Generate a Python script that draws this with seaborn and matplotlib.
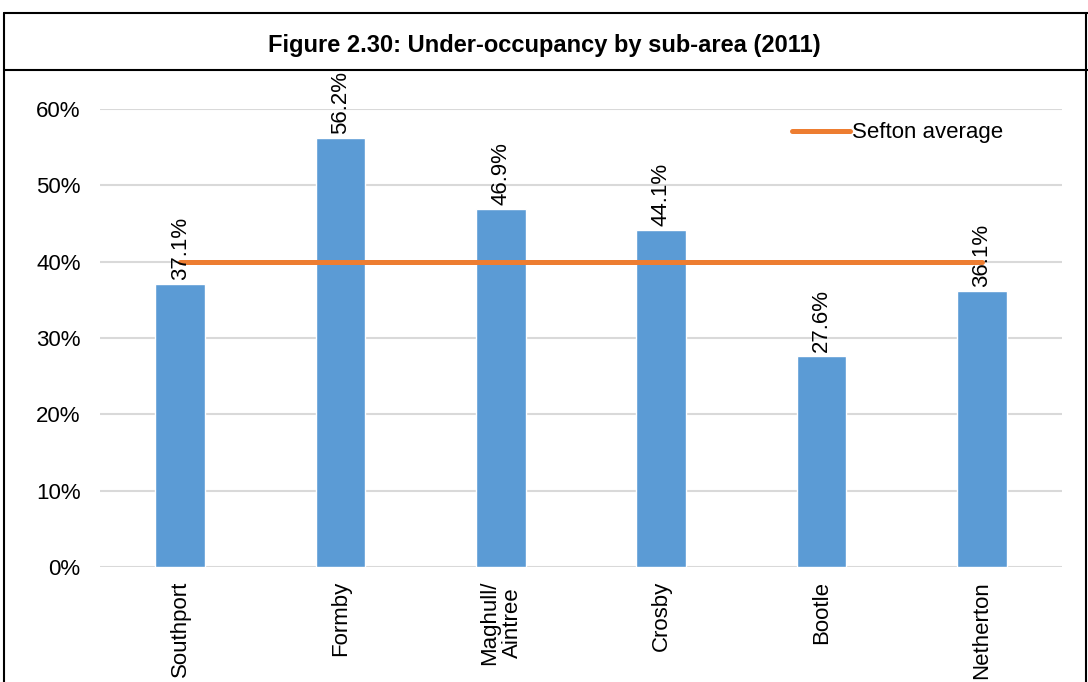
import matplotlib
matplotlib.use("Agg")
import matplotlib.pyplot as plt
import matplotlib.lines as mlines
import seaborn as sns
from matplotlib.ticker import PercentFormatter

# data
areas = ["Southport", "Formby", "Maghull/\nAintree", "Crosby", "Bootle", "Netherton"]
under_occ = [37.1, 56.2, 46.9, 44.1, 27.6, 36.1]
sefton_avg = [39.9, 39.9, 39.9, 39.9, 39.9, 39.9]
bar_labels = ["37.1%", "56.2%", "46.9%", "44.1%", "27.6%", "36.1%"]

sns.set_style("white")
plt.rcParams["font.family"] = ["Liberation Sans", "DejaVu Sans"]
plt.rcParams["text.color"] = "black"
plt.rcParams["xtick.color"] = "black"
plt.rcParams["ytick.color"] = "black"

fig = plt.figure(figsize=(10.88, 6.82), dpi=100)
ax = fig.add_axes([0.092, 0.1686, 0.884, 0.6716])

sns.barplot(x=areas, y=under_occ, color="#5B9BD5", width=0.31, saturation=1, ax=ax, zorder=2)
ax.plot(range(len(areas)), sefton_avg, color="#ED7D31", lw=3.6, zorder=3,
        solid_capstyle="round")

for i, (v, lab) in enumerate(zip(under_occ, bar_labels)):
    ax.annotate(lab, (i, v), xytext=(0, 3), textcoords="offset points",
                rotation=90, ha="center", va="bottom", fontsize=16, zorder=4)

ax.set_ylim(0, 60)
ax.set_yticks(range(0, 61, 10))
ax.yaxis.set_major_formatter(PercentFormatter(decimals=0))
ax.set_xlim(-0.5, len(areas) - 0.5)
ax.grid(axis="y", color="#D9D9D9", lw=1.5, zorder=0)
ax.set_axisbelow(True)
for s in ax.spines.values():
    s.set_visible(False)
ax.tick_params(axis="both", length=0, labelsize=16)
ax.tick_params(axis="y", pad=14)
ax.tick_params(axis="x", pad=10)
plt.setp(ax.get_xticklabels(), rotation=90, va="top", ha="center", linespacing=1.15)
ax.set_xlabel("")
ax.set_ylabel("")

handle = mlines.Line2D([], [], color="#ED7D31", lw=3.6, solid_capstyle="round")
ax.legend([handle], ["Sefton average"], loc="center left", bbox_to_anchor=(0.71, 0.948),
          frameon=False, fontsize=16, handlelength=2.6, handletextpad=0.1,
          borderaxespad=0)

# title box
fig.text(0.5, 0.934, "Figure 2.30: Under-occupancy by sub-area (2011)",
         ha="center", va="center", fontsize=17, fontweight="bold")
for xs, ys in [([0.0037, 1.0], [0.981, 0.981]),
               ([0.0037, 0.0037], [0.0, 0.981]),
               ([0.9985, 0.9985], [0.0, 0.981]),
               ([0.0037, 1.0], [0.897, 0.897])]:
    fig.add_artist(mlines.Line2D(xs, ys, color="black", lw=1.5))

fig.savefig("out.png", dpi=100)
